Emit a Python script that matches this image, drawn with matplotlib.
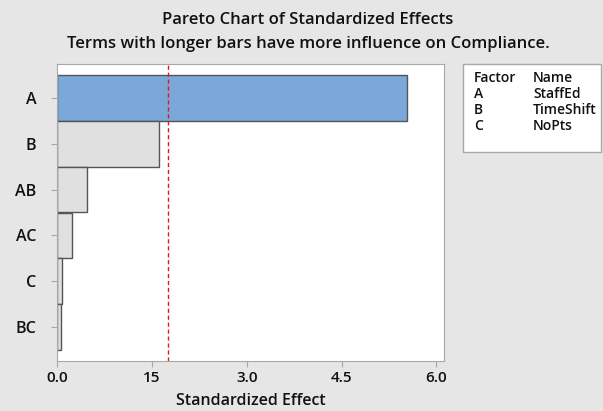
import matplotlib
matplotlib.use("Agg")

import matplotlib.pyplot as plt
from matplotlib.patches import Rectangle

# Standardized effects
terms = ["A", "B", "AB", "AC", "C", "BC"]
effects = [5.53, 1.61, 0.47, 0.24, 0.085, 0.06]
ref_line = 1.76

xticks = [0.0, 1.5, 3.0, 4.5, 6.0]
xtick_labels = ["0.0", "15", "3.0", "4.5", "6.0"]

factors = ["A", "B", "C"]
names = ["StaffEd", "TimeShift", "NoPts"]

plt.rcParams["font.family"] = ["Open Sans", "DejaVu Sans"]

bg = "#e6e6e6"
spine = "#a8a8a8"
txt = "#111111"

fig = plt.figure(figsize=(6.03, 4.11), dpi=100, facecolor=bg)
ax = fig.add_axes([57 / 603, 1 - 361 / 411, 387 / 603, 297 / 411])
ax.set_facecolor("white")

colors = ["#7ba7d9"] + ["#e0e0e0"] * (len(terms) - 1)
ax.barh(range(len(terms)), effects, height=1.0, color=colors,
        edgecolor="#555555", linewidth=1.0)

ax.axvline(ref_line, color="#e8161b", linestyle=(0, (3, 2)), linewidth=1.0)

ax.set_xlim(0, 6.12)
ax.set_ylim(len(terms) - 0.26, -0.74)

ax.set_yticks(range(len(terms)))
ax.set_yticklabels(terms, fontsize=11.5, fontweight="semibold")
ax.set_xticks(xticks)
ax.set_xticklabels(xtick_labels, fontsize=11, fontweight="semibold")
ax.tick_params(axis="both", colors=spine, length=4, labelcolor=txt)
ax.tick_params(axis="y", pad=11)
ax.tick_params(axis="x", pad=3)

for s in ax.spines.values():
    s.set_color(spine)

ax.set_xlabel("Standardized Effect", fontsize=11.5, fontweight="semibold",
              color=txt, labelpad=6)

fig.text(308 / 603, 1 - 20 / 411, "Pareto Chart of Standardized Effects",
         ha="center", va="center", fontsize=12, fontweight="semibold",
         color=txt)
fig.text(308 / 603, 1 - 44 / 411,
         "Terms with longer bars have more influence on Compliance.",
         ha="center", va="center", fontsize=12, fontweight="semibold",
         color=txt)

# Factor / name table on the right
fig.patches.append(Rectangle((463 / 603, 1 - 152 / 411), 138 / 603, 88 / 411,
                             transform=fig.transFigure, facecolor="white",
                             edgecolor=spine, linewidth=1.0))
fig.text(474 / 603, 1 - 78 / 411, "Factor", ha="left", va="center",
         fontsize=10, fontweight="semibold", color=txt)
fig.text(533 / 603, 1 - 78 / 411, "Name", ha="left", va="center",
         fontsize=10, fontweight="semibold", color=txt)
for i, (f, n) in enumerate(zip(factors, names)):
    y = 1 - (94 + 16 * i) / 411
    fig.text(474 / 603, y, f, ha="left", va="center", fontsize=10,
             fontweight="semibold", color=txt)
    fig.text(533 / 603, y, n, ha="left", va="center", fontsize=10,
             fontweight="semibold", color=txt)

plt.savefig("out.png", dpi=100, facecolor=bg)
